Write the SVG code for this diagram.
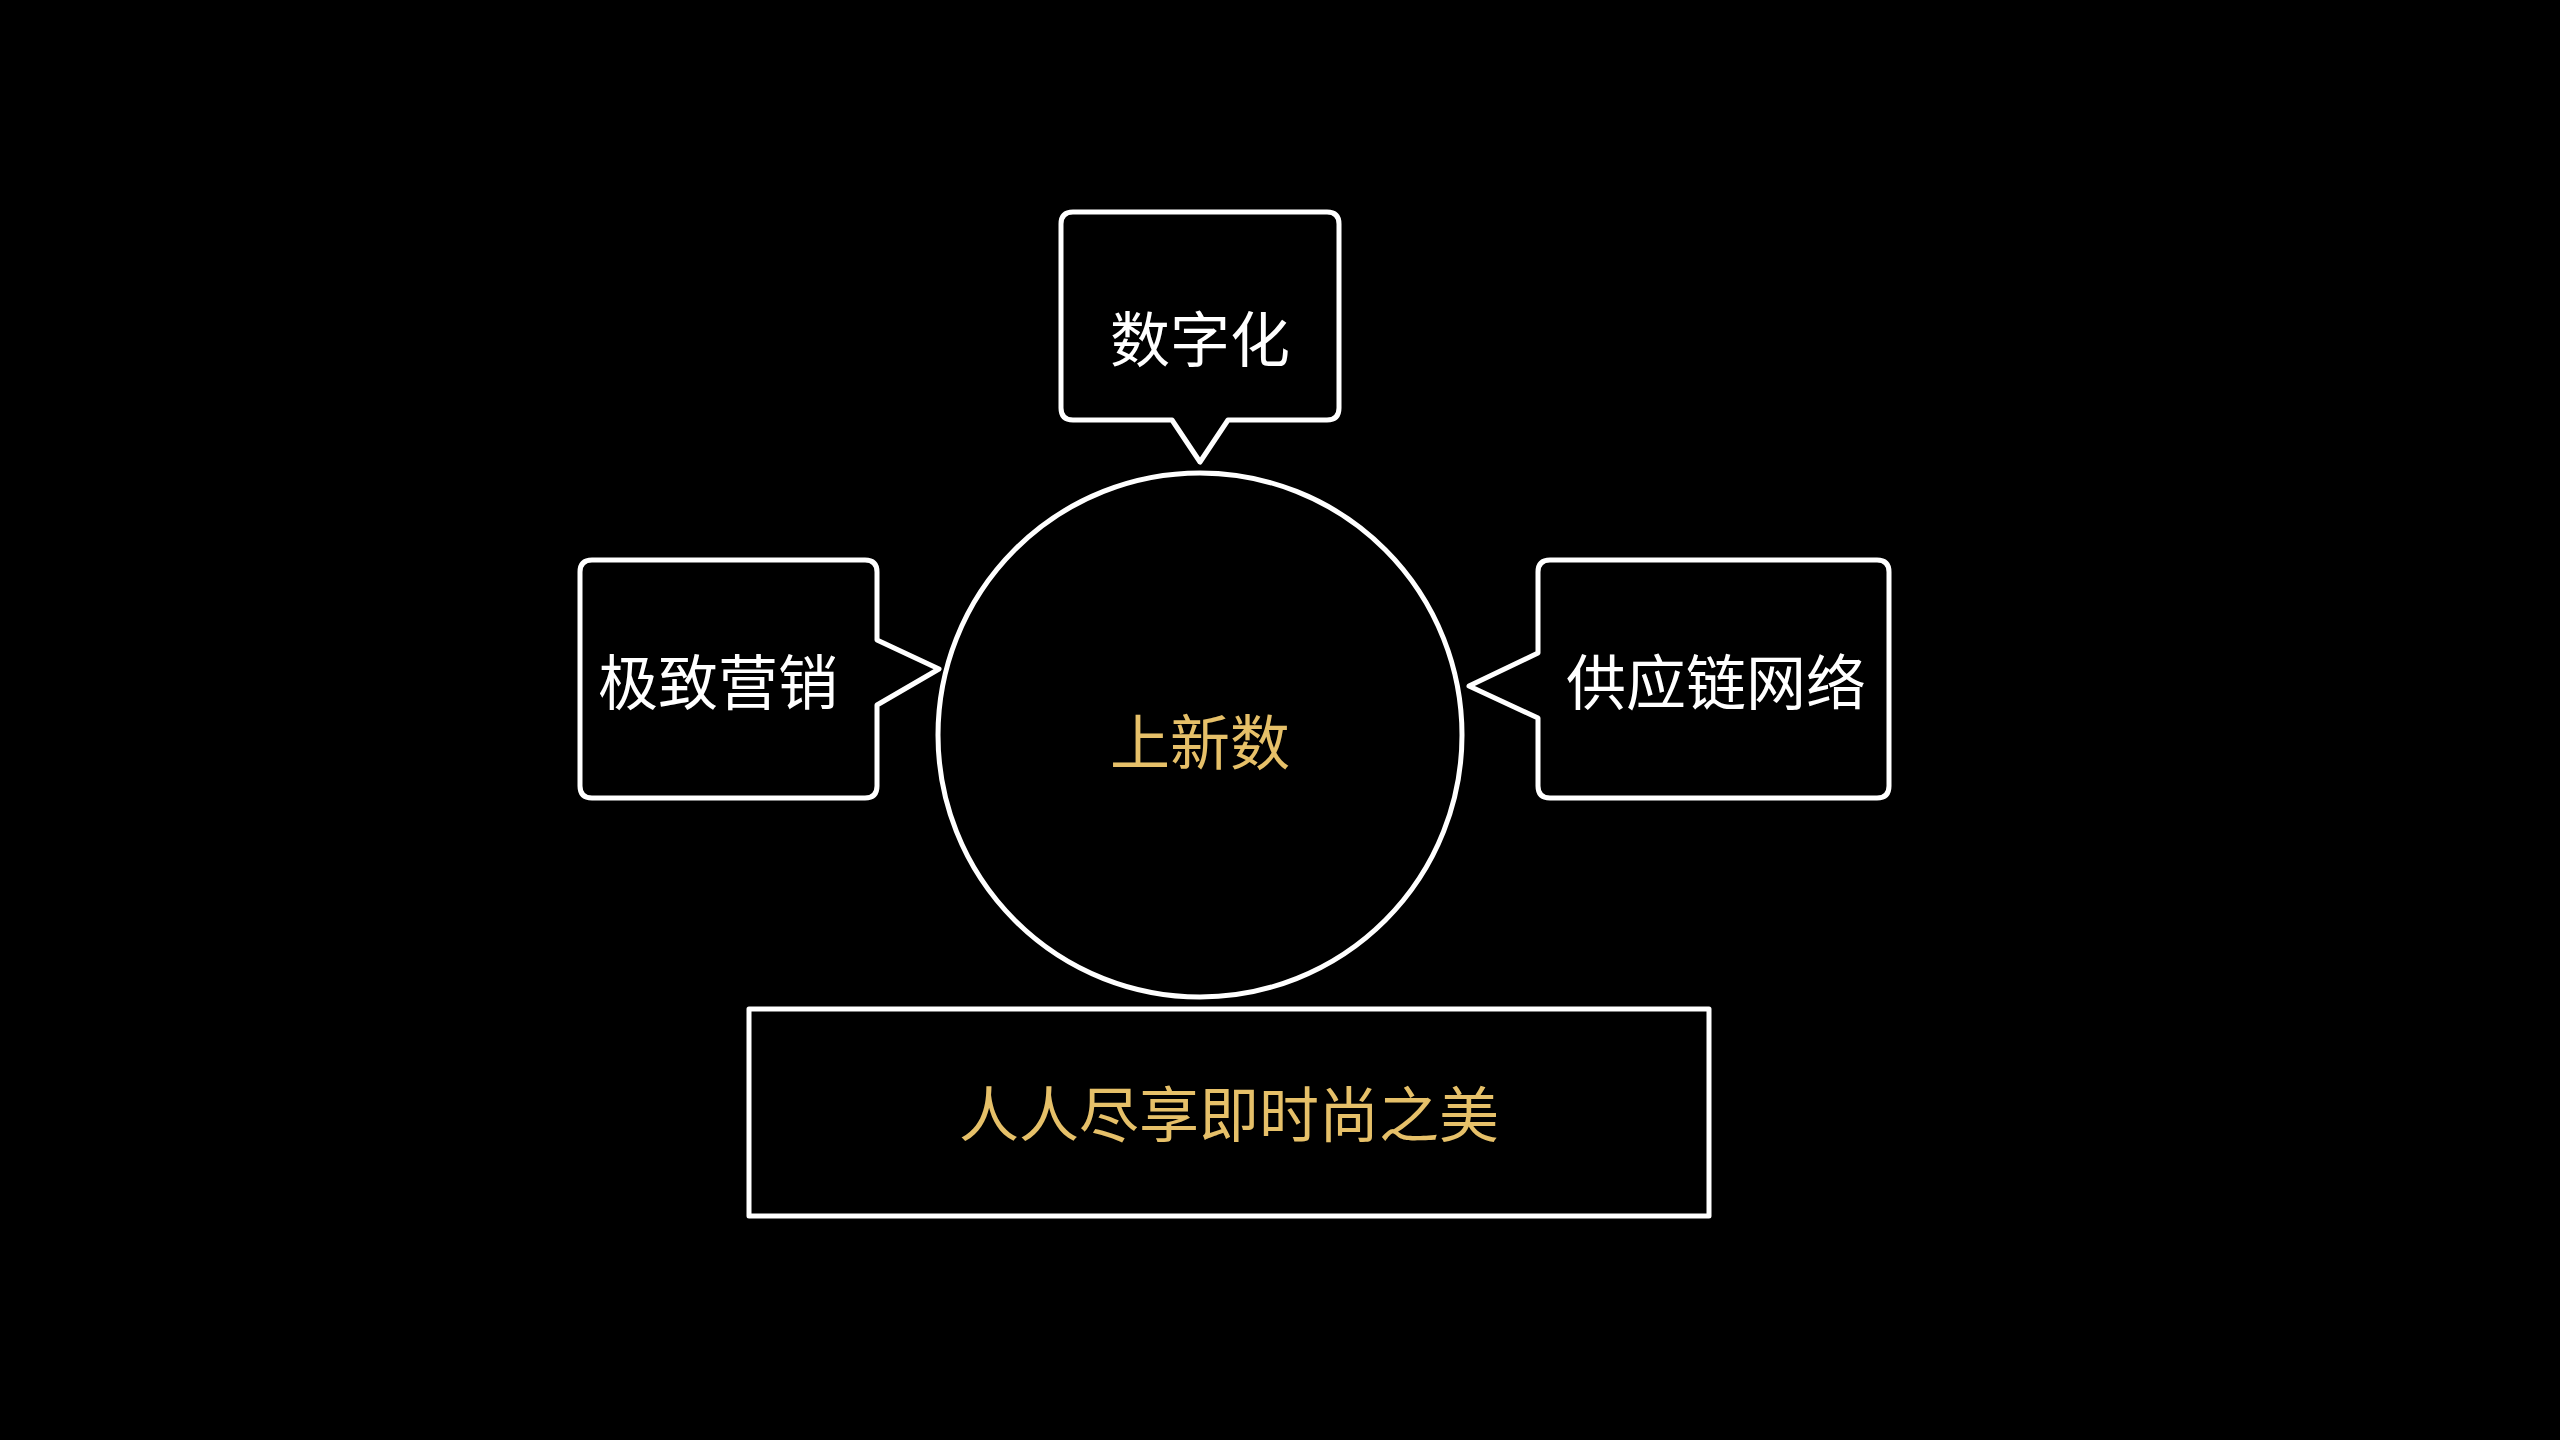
<svg xmlns="http://www.w3.org/2000/svg" width="2560" height="1440" viewBox="0 0 2560 1440">
<style>
.s{fill:none;stroke:#fff;stroke-width:5;stroke-linejoin:round}
.t{font-family:"Noto Sans CJK SC",sans-serif;font-size:60px;text-anchor:middle;dominant-baseline:central}
.w{fill:#fff}.g{fill:#e6c069}
</style>
<rect width="2560" height="1440" fill="#000"/>
<g id="center"><circle class="s" cx="1200" cy="735" r="262"/><text class="t g" x="1200" y="738">上新数</text></g>
<g id="top"><path class="s" d="M1073,212 H1327 Q1339,212 1339,224 V408 Q1339,420 1327,420 H1228 L1200,462 L1172,420 H1073 Q1061,420 1061,408 V224 Q1061,212 1073,212 Z"/><text class="t w" x="1200" y="335">数字化</text></g>
<g id="left"><path class="s" d="M592,560 H865 Q877,560 877,572 V640 L939,669 L877,705 V786 Q877,798 865,798 H592 Q580,798 580,786 V572 Q580,560 592,560 Z"/><text class="t w" x="718" y="678">极致营销</text></g>
<g id="right"><path class="s" d="M1550,560 H1877 Q1889,560 1889,572 V786 Q1889,798 1877,798 H1550 Q1538,798 1538,786 V718 L1469,686 L1538,653 V572 Q1538,560 1550,560 Z"/><text class="t w" x="1716" y="678">供应链网络</text></g>
<g id="bottom"><rect class="s" x="749" y="1009" width="960" height="207"/><text class="t g" x="1229" y="1110">人人尽享即时尚之美</text></g>
<g id="connectors"></g>
</svg>
